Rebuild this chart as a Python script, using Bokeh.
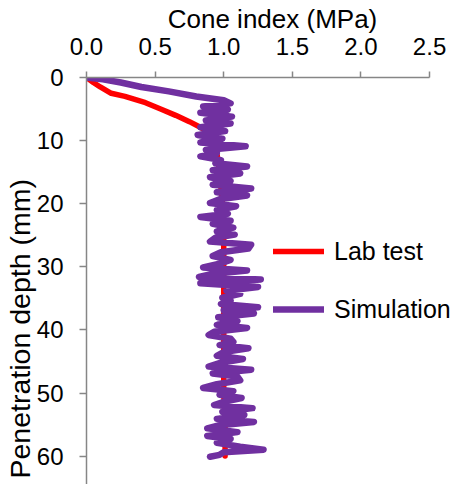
import math
from bokeh.plotting import figure
from bokeh.models import Range1d, FixedTicker, Legend, LegendItem, Title
from bokeh.embed import file_html
from bokeh.resources import INLINE

# ---- data ----
x_ticks = [0.0, 0.5, 1.0, 1.5, 2.0, 2.5]
x_tick_labels = ["0.0", "0.5", "1.0", "1.5", "2.0", "2.5"]
y_ticks = [0, 10, 20, 30, 40, 50, 60]
y_tick_labels = ["0", "10", "20", "30", "40", "50", "60"]

lab_depth = [0.0, 0.8, 1.5, 2.5, 3.0, 4.0, 5.0, 6.0, 7.0, 8.0, 9.0, 10.0, 12.0,
             15.0, 20.0, 25.0, 30.0, 40.0, 50.0, 55.0, 60.0]
lab_ci = [0.00, 0.05, 0.10, 0.18, 0.28, 0.43, 0.54, 0.65, 0.75, 0.84, 0.90, 0.93, 0.95,
          0.97, 0.99, 1.00, 1.00, 1.00, 1.00, 1.01, 1.01]

sim_depth = [0.0, 0.3, 0.8, 1.5, 2.2, 3.0, 3.6, 4.1, 4.6, 5.1, 5.6, 6.2, 6.8, 7.3, 7.9,
             8.5, 9.1, 9.7, 10.3, 10.9, 11.5, 12.0, 12.5, 13.1, 13.6, 14.1, 14.7, 15.2,
             15.8, 16.4, 17.0, 17.6, 18.2, 18.7, 19.3, 19.9, 20.4, 21.0, 21.6, 22.1,
             22.7, 23.2, 23.8, 24.4, 24.9, 25.4, 26.0, 26.5, 27.1, 27.7, 28.3, 28.9,
             29.5, 30.1, 30.6, 31.2, 31.6, 32.0, 32.6, 33.2, 33.8, 34.3, 34.9, 35.4,
             35.9, 36.4, 36.9, 37.4, 38.0, 38.6, 39.2, 39.7, 40.3, 40.8, 41.4, 41.9,
             42.4, 42.9, 43.5, 44.1, 44.6, 45.2, 45.8, 46.3, 46.9, 47.4, 48.0, 48.6,
             49.2, 49.7, 50.3, 50.8, 51.4, 51.9, 52.4, 53.0, 53.5, 54.1, 54.6, 55.1,
             55.6, 56.2, 56.8, 57.3, 57.9, 58.5, 59.0, 59.4, 59.8, 60.1]
sim_ci = [0.00, 0.12, 0.25, 0.40, 0.60, 0.80, 1.00, 1.05, 0.85, 1.03, 0.83, 1.06, 0.87,
          1.05, 0.83, 1.01, 0.81, 0.99, 0.83, 1.16, 0.87, 0.95, 0.83, 0.98, 0.94, 1.17,
          0.92, 1.12, 0.90, 1.05, 0.92, 1.20, 0.95, 1.17, 0.97, 0.90, 1.09, 0.95, 1.03,
          0.83, 1.05, 0.92, 1.07, 0.95, 1.08, 0.94, 0.90, 1.20, 1.18, 0.98, 0.92, 1.05,
          0.97, 0.85, 1.17, 0.90, 0.82, 1.27, 0.83, 1.25, 1.02, 1.12, 0.99, 1.05, 0.98,
          1.25, 1.00, 1.22, 0.96, 1.10, 0.95, 1.17, 0.93, 0.89, 1.05, 1.07, 0.97, 1.18,
          1.00, 0.95, 1.14, 0.98, 0.89, 1.20, 0.92, 1.10, 1.12, 0.95, 0.85, 1.07, 0.97,
          1.13, 1.00, 0.93, 1.21, 0.99, 1.15, 0.95, 1.22, 0.97, 0.88, 1.10, 0.88, 1.05,
          0.95, 1.12, 1.29, 1.00, 0.97, 0.90]

series_names = ["Lab test", "Simulation"]
series_colors = ["#FF0000", "#7030A0"]
y_title = "Penetration depth (mm)"
x_title = "Cone index (MPa)"

FONT = "Liberation Sans"
AXIS_GRAY = "#868686"

p = figure(width=458, height=484, output_backend="svg", toolbar_location=None,
           x_axis_location="above",
           x_range=Range1d(0, 2.711), y_range=Range1d(64.5, 0),
           min_border_left=86, min_border_right=0, min_border_top=77,
           min_border_bottom=0)
p.outline_line_color = None
p.grid.visible = False

r_lab = p.line(lab_ci, lab_depth, line_color=series_colors[0], line_width=5.5,
               line_join="round", line_cap="round")
r_sim = p.line(sim_ci, sim_depth, line_color=series_colors[1], line_width=6.5,
               line_join="round", line_cap="round")

xa = p.xaxis[0]
xa.ticker = FixedTicker(ticks=x_ticks)
xa.major_label_overrides = dict(zip(x_ticks, x_tick_labels))
xa.bounds = (x_ticks[0], x_ticks[-1])
xa.axis_label = x_title
ya = p.yaxis[0]
ya.ticker = FixedTicker(ticks=y_ticks)
ya.major_label_overrides = dict(zip(y_ticks, y_tick_labels))

for ax in (xa, ya):
    ax.axis_line_color = AXIS_GRAY
    ax.axis_line_width = 1.5
    ax.major_tick_line_color = AXIS_GRAY
    ax.major_tick_line_width = 1.5
    ax.major_tick_in = 0
    ax.minor_tick_line_color = None
    ax.major_label_text_font = FONT
    ax.major_label_text_font_size = "24px"
    ax.major_label_text_color = "black"
    ax.axis_label_text_font = FONT
    ax.axis_label_text_font_style = "normal"
    ax.axis_label_text_color = "black"

xa.major_tick_out = 6
xa.major_label_standoff = 17
xa.axis_label_text_font_size = "26px"
xa.axis_label_standoff = 1
ya.major_tick_out = 7
ya.major_label_standoff = 16

ytitle = Title(text=y_title, align="left", offset=6, standoff=-4,
               text_font=FONT, text_font_size="28.5px", text_font_style="normal",
               text_color="black")
p.add_layout(ytitle, "left")

legend = Legend(items=[LegendItem(label=series_names[0], renderers=[r_lab]),
                       LegendItem(label=series_names[1], renderers=[r_sim])],
                location=(187, 160), orientation="vertical",
                glyph_width=51, glyph_height=30, label_height=30, spacing=28,
                label_standoff=10, padding=0, margin=0,
                label_text_font=FONT, label_text_font_size="25px",
                label_text_color="black",
                background_fill_alpha=0, border_line_alpha=0)
p.add_layout(legend)

open("out.html", "w").write(file_html(p, INLINE))
